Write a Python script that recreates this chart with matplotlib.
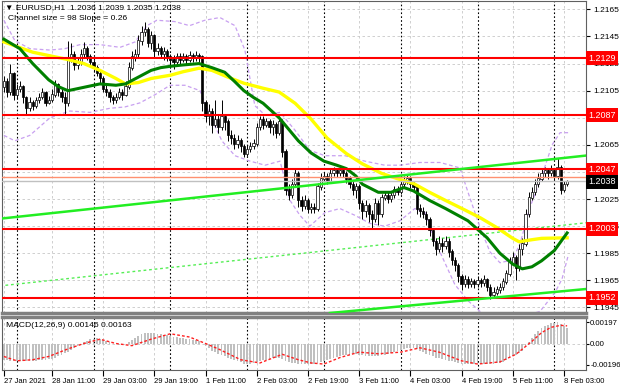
import numpy as np
import matplotlib.pyplot as plt
from matplotlib.transforms import blended_transform_factory

plt.rcParams['font.family'] = ['Liberation Sans', 'DejaVu Sans']

# EURUSD H1, prices in points above 1.2000 (1 point = 0.0001)
base = 1.2
first_open = 108
close_pts = [112, 104, 118, 102, 106, 108, 100, 92, 96, 94,
             98, 100, 104, 96, 98, 102, 110, 104, 100, 96,
             128, 132, 124, 126, 132, 136, 130, 126, 122, 118,
             114, 106, 104, 100, 98, 100, 104, 102, 108, 122,
             130, 132, 142, 148, 150, 140, 146, 134, 136, 132,
             134, 130, 128, 126, 130, 128, 130, 128, 131, 129,
             131, 130, 96, 86, 90, 80, 84, 78, 86, 82,
             72, 70, 66, 68, 64, 58, 62, 64, 66, 78,
             84, 80, 82, 78, 80, 74, 82, 60, 32, 28,
             36, 44, 24, 20, 24, 18, 19, 18, 34, 40,
             42, 38, 44, 46, 44, 46, 44, 40, 36, 32,
             34, 22, 16, 20, 14, 10, 22, 14, 26, 28,
             25, 28, 32, 30, 36, 38, 40, 36, 34, 18,
             16, 14, 10, 2, -6, -12, -8, -10, -6, -14,
             -20, -24, -32, -38, -34, -38, -36, -38, -35, -37,
             -34, -40, -46, -44, -42, -40, -36, -30, -22, -18,
             -26, -12, -8, 14, 26, 30, 36, 40, 44, 46,
             44, 46, 42, 48, 32, 36, 38]
high_pts = [116, 114, 125, 119, 110, 112, 109, 101, 100, 98,
            100, 103, 107, 105, 101, 106, 113, 111, 106, 104,
            142, 140, 134, 129, 136, 141, 138, 132, 128, 124,
            120, 116, 109, 106, 102, 103, 107, 106, 112, 126,
            134, 136, 146, 153, 156, 152, 149, 147, 140, 138,
            137, 136, 132, 131, 133, 133, 133, 132, 134, 133,
            134, 133, 131, 98, 95, 92, 98, 88, 98, 88,
            84, 76, 73, 72, 70, 66, 65, 67, 69, 81,
            86, 86, 85, 84, 83, 82, 86, 84, 62, 36,
            40, 48, 46, 27, 28, 26, 22, 22, 37, 44,
            45, 44, 48, 49, 48, 49, 48, 46, 42, 38,
            37, 36, 24, 24, 22, 17, 26, 24, 29, 31,
            30, 31, 35, 35, 39, 42, 43, 42, 38, 35,
            21, 19, 16, 12, 4, -4, -2, -4, -2, -4,
            -12, -18, -22, -30, -31, -32, -33, -34, -32, -33,
            -31, -33, -38, -40, -39, -37, -33, -27, -18, -14,
            -16, -8, -4, 18, 30, 34, 40, 44, 48, 49,
            48, 50, 48, 55, 50, 38, 39]
low_pts = [104, 100, 102, 98, 99, 104, 96, 88, 90, 91,
           92, 96, 99, 94, 95, 97, 100, 101, 97, 88,
           94, 126, 120, 121, 124, 130, 128, 124, 119, 116,
           111, 104, 101, 97, 95, 96, 99, 98, 101, 106,
           120, 127, 130, 139, 145, 137, 136, 130, 131, 129,
           128, 127, 122, 121, 124, 125, 126, 125, 126, 126,
           127, 126, 90, 82, 80, 74, 78, 74, 76, 76,
           68, 66, 62, 63, 60, 56, 57, 60, 62, 64,
           76, 77, 78, 74, 72, 70, 72, 56, 28, 24,
           26, 34, 19, 16, 18, 15, 15, 15, 16, 32,
           38, 36, 37, 42, 41, 42, 41, 37, 33, 28,
           26, 18, 10, 12, 8, 4, 8, 6, 12, 24,
           22, 23, 26, 28, 29, 34, 36, 33, 30, 14,
           12, 11, 6, -2, -10, -16, -14, -14, -12, -18,
           -24, -28, -36, -42, -40, -41, -40, -41, -40, -40,
           -39, -43, -49, -48, -46, -44, -42, -38, -32, -24,
           -35, -28, -16, -10, 12, 24, 28, 34, 38, 41,
           40, 42, 38, 40, 29, 30, 35]

# moving averages: (bar index, points)
ma_green_i = [0, 5, 9, 14, 17, 20, 25, 30, 35, 38, 42, 46, 49, 52, 56, 61, 65, 69, 72, 75, 78, 81, 86, 92,
              96, 100, 104, 107, 110, 112, 117, 121, 125, 128, 133, 138, 145, 151, 155, 159, 162, 165,
              168, 172, 176]
ma_green_v = [143, 136, 125, 113, 108, 105, 107.5, 110, 109, 110, 115, 120, 122, 123, 124, 125, 122, 118.6,
              112, 105, 100, 95.7, 85, 68, 59, 53, 50, 47.5, 42, 36, 30, 30, 33.5, 31, 24, 18, 9, -3.6,
              -15, -23, -26.5, -25, -20.6, -13, 0]
ma_yellow_i = [0, 9, 20, 25, 30, 35, 38, 42, 46, 52, 56, 61, 65, 70, 75, 81, 86, 91, 96,
               101, 107, 112, 118, 123, 128, 133, 138, 144, 149, 154, 159, 161, 165, 168, 176]
ma_yellow_v = [141, 133.4, 128, 125, 120, 114, 110, 111, 114, 116.4, 119, 121.6, 120, 115, 110.5, 106.8, 104,
               95.7, 84, 70, 58.6, 51, 44, 40, 36.5, 30, 24, 17, 11, 4, -4, -6.5, -5, -4, -3.6]

# envelope bands
band_up_i = [0, 3.4, 8.1, 14.4, 19, 23.8, 30, 36.3, 41, 44.7, 47.8, 53.4, 58, 62.8, 67.5, 72.2, 75.3, 78.4,
             81.6, 86.3, 90.9, 95.6, 100.3, 106.6, 112.8, 119, 123.8, 130, 136.3, 142.5, 145.6, 148.8,
             151.9, 155, 158.8, 161.3, 164.4, 168.1, 171.3, 173.8, 176.3]
band_up_v = [157, 142, 136, 135, 136, 139, 139, 137, 141, 153, 157, 156, 153, 157, 159, 153, 135, 94,
             87, 89, 76, 61, 57, 57, 53, 50, 50, 52, 52, 48, 26, 4, -14, -22, -20, -8, 19, 42, 65, 74, 74]
band_dn_i = [0, 3.4, 8.1, 14.4, 20.6, 26.9, 33.1, 37.8, 42.5, 47.2, 51.9, 56.6, 61.3, 64.4, 68.1, 72.2,
             76.9, 81.6, 86.3, 89.4, 92.5, 95.6, 100.3, 105, 109.7, 114.4, 119, 123.8, 128.4, 131.6,
             134.7, 137.8, 140.9, 145, 148.8, 153.4, 158.1, 162.8, 167.5, 172.2, 174.4, 176.3]
band_dn_v = [72, 68, 72, 85, 90, 89, 92, 93, 96, 102, 109, 109, 105, 87, 68, 57,
             53, 50, 53, 24, 13, 5, 15, 18, 13, 7, 5, 9, 18, 15,
             -6, -22, -38, -50, -58, -64, -64, -61, -58, -44, -34, -17]

# support / resistance levels and channel lines
levels = [1.2129, 1.2087, 1.2047, 1.2003, 1.1952]
ask_price = 1.2041
bid_price = 1.2038
channel_i = [-1.25, 181.9]
channel_top = [1.20105, 1.20571]
channel_mid = [1.19609, 1.20075]
support_i = [101.9, 181.9]
support_v = [1.19409, 1.19586]

# MACD(12,26,9), histogram in units of 1e-5
macd_hist = [-150, -155, -158, -160, -160, -162, -160, -162, -160, -158,
             -158, -155, -152, -150, -145, -140, -130, -118, -105, -92,
             -75, -58, -42, -25, -10, 10, 25, 38, 45, 48,
             45, 35, 22, 10, 0, -8, -12, -10, -5, 10,
             30, 50, 70, 85, 95, 100, 100, 95, 90, 85,
             80, 75, 70, 62, 58, 52, 48, 42, 38, 32,
             28, 22, 0, -25, -45, -65, -80, -95, -105, -118,
             -130, -142, -155, -165, -175, -185, -190, -188, -182, -172,
             -162, -155, -148, -142, -138, -135, -130, -140, -160, -172,
             -178, -180, -185, -190, -192, -193, -192, -190, -182, -172,
             -160, -150, -140, -130, -122, -115, -110, -105, -102, -100,
             -100, -105, -110, -115, -118, -120, -118, -115, -110, -105,
             -100, -92, -82, -72, -62, -52, -45, -40, -42, -55,
             -70, -82, -95, -108, -120, -130, -138, -145, -150, -158,
             -165, -172, -180, -188, -190, -192, -190, -190, -188, -186,
             -185, -186, -190, -188, -184, -178, -168, -155, -138, -120,
             -105, -85, -65, -30, 10, 50, 85, 115, 140, 160,
             175, 185, 192, 200, 182, 165, 146]
signal_i = [0, 4, 9, 14, 20, 25, 30, 35, 40, 46, 52, 58, 63, 67, 74, 80, 87, 92, 96, 100,
            105, 111, 117, 124, 130, 136, 143, 148, 155, 160, 165, 168, 171, 174, 176]
signal_v = [-120, -160, -150, -120, -50, 0, 40, 0, -20, 40, 90, 60, 0, -50, -150, -180, -100, -150, -180, -190,
            -130, -80, -95, -80, -40, -80, -160, -190, -170, -100, 20, 100, 150, 168, 163]

tick_i = [0, 15, 31, 47, 63, 79, 95, 111, 127, 143, 159, 175]
tick_labels = ['27 Jan 2021', '28 Jan 11:00', '29 Jan 03:00', '29 Jan 19:00', '1 Feb 11:00',
               '2 Feb 03:00', '2 Feb 19:00', '3 Feb 11:00', '4 Feb 03:00', '4 Feb 19:00',
               '5 Feb 11:00', '8 Feb 03:00']
day_sep = [4, 28, 52, 76, 100, 124, 148, 172]

c = base + np.array(close_pts) / 1e4
h = base + np.array(high_pts) / 1e4
l = base + np.array(low_pts) / 1e4
o = np.concatenate([[base + first_open / 1e4], c[:-1]])
idx = np.arange(len(c))

W, H = 620, 388
fig = plt.figure(figsize=(W / 100, H / 100), dpi=100)
fig.patch.set_facecolor('white')
ax = fig.add_axes([2 / W, 1 - 313 / H, 584 / W, 312 / H])
ax2 = fig.add_axes([2 / W, 1 - 370 / H, 584 / W, 53 / H], sharex=ax)

grid_kw = dict(color='#c8c8c8', lw=0.6, ls=(0, (3, 3)), zorder=0)
yt = np.arange(1.1945, 1.2166, 0.002)
for y in yt:
    ax.axhline(y, **grid_kw)
for a in (ax, ax2):
    for t in tick_i:
        a.axvline(t, **grid_kw)
    for d in day_sep:
        a.axvline(d, color='black', lw=0.8, ls=(0, (1.5, 2)), zorder=1)

# bands and channel
ax.plot(band_up_i, base + np.array(band_up_v) / 1e4, color='#c8a0f0', lw=0.9, ls=(0, (3, 2)), zorder=1)
ax.plot(band_dn_i, base + np.array(band_dn_v) / 1e4, color='#c8a0f0', lw=0.9, ls=(0, (3, 2)), zorder=1)
ax.plot(channel_i, channel_mid, color='#55ee55', lw=1.0, ls=(0, (2, 2)), zorder=2)

# candles
up = c >= o
ax.vlines(idx, l, h, color='black', lw=0.7, zorder=3)
ax.bar(idx, np.abs(c - o) + 0.00003, bottom=np.minimum(o, c), width=0.65,
       color=np.where(up, 'white', 'black'), edgecolor='black', lw=0.5, zorder=4)

ax.plot(ma_yellow_i, base + np.array(ma_yellow_v) / 1e4, color='#ffff00', lw=2.4, zorder=5)
ax.plot(ma_green_i, base + np.array(ma_green_v) / 1e4, color='#008000', lw=2.2, zorder=5)

for lv in levels:
    ax.axhline(lv, color='#ff0000', lw=1.5, zorder=6)
ax.axhline(ask_price, color='#ff9070', lw=1.0, zorder=6)
ax.axhline(bid_price, color='#c0c0c0', lw=1.0, zorder=6)
ax.plot(channel_i, channel_top, color='#22ee22', lw=1.8, zorder=6)
ax.plot(support_i, support_v, color='#22ee22', lw=1.8, zorder=6)

ax.set_xlim(-0.6, 181.9)
ax.set_ylim(1.19409, 1.21712)
ax.yaxis.tick_right()
ax.set_yticks(yt)
# labels that sit fully under the level boxes are left blank
hidden = {'1.2085', '1.2045'}
ax.set_yticklabels(['' if ('%.4f' % v) in hidden else '%.4f' % v for v in yt])
ax.tick_params(axis='y', labelsize=6, length=3, pad=2, colors='black')
ax.tick_params(axis='x', bottom=False, labelbottom=False)
for s in ('top', 'left', 'right'):
    ax.spines[s].set_color('#606060')
ax.spines['bottom'].set_color('#808080')
ax.spines['bottom'].set_linewidth(2.5)

tr = blended_transform_factory(ax.transAxes, ax.transData)
box_kw = dict(transform=tr, color='white', fontsize=6.5, va='center', ha='left', clip_on=False)
ax.text(1.004, ask_price + 0.00008, '1.2041', zorder=10,
        bbox=dict(boxstyle='square,pad=0.25', fc='#ff7f50', ec='none'), **box_kw)
for lv in levels:
    ax.text(1.004, lv, '%.4f' % lv, zorder=11,
            bbox=dict(boxstyle='square,pad=0.25', fc='#ff0000', ec='none'), **box_kw)
ax.text(1.004, bid_price - 0.00003, '1.2038', zorder=12,
        bbox=dict(boxstyle='square,pad=0.25', fc='black', ec='none'), **box_kw)

fig.text(5 / W, 1 - 8 / H, '\u25bc EURUSD,H1  1.2036 1.2039 1.2035 1.2038', fontsize=6.1, va='center')
fig.text(8 / W, 1 - 19 / H, 'Channel size = 98 Slope = 0.26', fontsize=6.1, va='center')

# MACD panel
ax2.axhline(0, color='#c8c8c8', lw=0.6, ls=(0, (3, 3)), zorder=0)
hist = np.array(macd_hist) / 1e5
ax2.bar(idx, hist, width=0.6, color='#c0c0c0', zorder=2)
ax2.plot(signal_i, np.array(signal_v) / 1e5, color='#ff2020', lw=1.0, ls=(0, (2, 1.5)), zorder=3)
ax2.set_ylim(-0.00245, 0.00245)
ax2.yaxis.tick_right()
ax2.set_yticks([0.00197, 0.0, -0.00196])
ax2.set_yticklabels(['0.00197', '0.00', '-0.00196'])
ax2.tick_params(axis='y', labelsize=5.6, length=2, pad=1)
ax2.set_xticks(tick_i)
ax2.set_xticklabels(tick_labels)
for lbl in ax2.get_xticklabels():
    lbl.set_horizontalalignment('left')
ax2.tick_params(axis='x', labelsize=5.5, length=4, pad=2, direction='out')
for s in ('left', 'right', 'bottom'):
    ax2.spines[s].set_color('#606060')
ax2.spines['top'].set_color('#808080')
ax2.spines['top'].set_linewidth(2.5)
ax2.text(0.006, 0.84, 'MACD(12,26,9) 0.00146 0.00163', transform=ax2.transAxes, fontsize=6.1,
         va='center')

fig.savefig('out.png', dpi=100)
